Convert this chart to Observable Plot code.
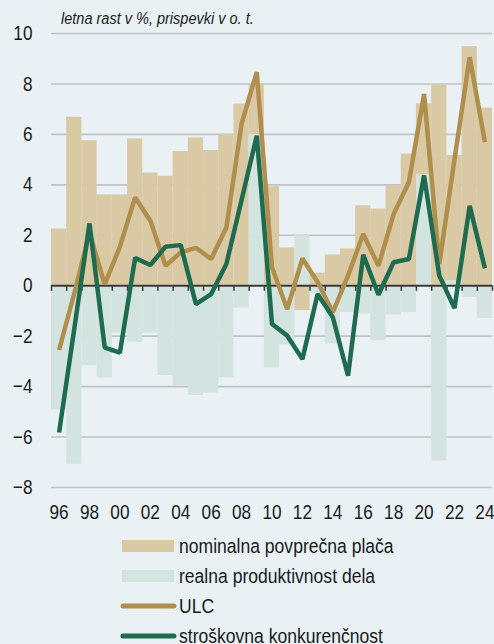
<!DOCTYPE html>
<html>
<head>
<meta charset="utf-8">
<script src="https://cdn.jsdelivr.net/npm/d3@7"></script>
<script src="https://cdn.jsdelivr.net/npm/@observablehq/plot@0.6"></script>
<style>
  html, body { margin: 0; padding: 0; }
  body { width: 494px; height: 644px; background: #E9F1F5; position: relative; overflow: hidden;
         font-family: "Liberation Sans", Arial, sans-serif; }
  #chart { position: absolute; left: 0; top: 0; }
  #overlay { position: absolute; left: 0; top: 0; pointer-events: none; }
</style>
</head>
<body>
<div id="chart"></div>
<svg id="overlay" width="494" height="644"></svg>
<script>
// ---- data ----
const years = [1996, 1997, 1998, 1999, 2000, 2001, 2002, 2003, 2004, 2005, 2006, 2007, 2008, 2009,
               2010, 2011, 2012, 2013, 2014, 2015, 2016, 2017, 2018, 2019, 2020, 2021, 2022, 2023, 2024];
// nominal average wage (contribution, p.p.)
const wage = [2.25, 6.68, 5.75, 3.6, 3.6, 5.82, 4.47, 4.34, 5.32, 5.86, 5.36, 6.0, 7.2, 2.0,
              3.93, 1.5, -0.99, 0.5, 1.22, 1.46, 3.17, 3.04, 3.97, 5.22, 2.81, 7.94, 4.96, 9.48, 7.04];
// real labour productivity (contribution, p.p.)
const productivity = [-4.93, -7.08, -3.17, -3.65, -1.88, -2.24, -1.88, -3.56, -3.98, -4.35, -4.26, -3.65, -0.89, 6.0,
                      -3.27, -2.35, 1.98, -0.3, -2.31, -1.06, -1.12, -2.18, -1.16, -1.06, 4.4, -6.94, 0.2, -0.46, -1.3];
// ULC (annual growth, %)
const ulc = [-2.55, -0.3, 2.1, 0.05, 1.55, 3.5, 2.58, 0.79, 1.32, 1.5, 1.06, 2.31, 6.42, 8.47,
             0.73, -0.93, 1.08, 0.15, -1.06, 0.4, 2.05, 0.79, 2.84, 4.1, 7.6, 0.86, 5.0, 9.06, 5.69];
// cost competitiveness (annual growth, %)
const competitiveness = [-5.82, -1.7, 2.47, -2.45, -2.65, 1.1, 0.82, 1.55, 1.61, -0.73, -0.33, 0.86, 3.4, 5.95,
                         -1.52, -1.98, -2.91, -0.33, -1.25, -3.57, 1.23, -0.36, 0.93, 1.06, 4.37, 0.4, -0.89, 3.17, 0.69];
const yTicks = [-8, -6, -4, -2, 0, 2, 4, 6, 8, 10];
const xLabelYears = [1996, 1998, 2000, 2002, 2004, 2006, 2008, 2010, 2012, 2014, 2016, 2018, 2020, 2022, 2024];
const seriesNames = ["nominalna povprečna plača", "realna produktivnost dela", "ULC", "stroškovna konkurenčnost"];
const subtitle = "letna rast v %, prispevki v o. t.";

// ---- styles ----
const C = { wage: "#D9C9A4", prod: "#D3E3DF", ulc: "#B08F4C", comp: "#1E6B4F", grid: "#BFC3C6", axis: "#3A3A3A", text: "#1a1a1a" };
const FONT = '"Liberation Sans", Arial, sans-serif';

// narrow-face emulation: horizontally squeeze a text element around its anchor
function squeeze(el, s) {
  const t = el.getAttribute("transform");
  if (t) {
    el.setAttribute("transform", t + ` scale(${s},1)`);
  } else {
    const x = +(el.getAttribute("x") || 0), y = +(el.getAttribute("y") || 0);
    el.removeAttribute("x"); el.removeAttribute("y");
    el.setAttribute("transform", `translate(${x},${y}) scale(${s},1)`);
  }
}

// stacked bar rows (productivity first, wage stacked on it if same sign)
const bars = [];
years.forEach((yr, i) => {
  const p = productivity[i], w = wage[i];
  bars.push({ year: yr, y1: 0, y2: p, s: "prod" });
  const base = Math.sign(w) === Math.sign(p) ? p : 0;
  bars.push({ year: yr, y1: base, y2: base + w, s: "wage" });
});
const lineRows = years.map((yr, i) => ({ year: yr, ulc: ulc[i], comp: competitiveness[i] }));
const boundaries = years.map(y => y - 0.5).concat([years[years.length - 1] + 0.5]);

const chart = Plot.plot({
  width: 494,
  height: 537,
  marginLeft: 51,
  marginRight: 2,
  marginTop: 33,
  marginBottom: 50,
  x: { domain: [years[0] - 0.5, years[years.length - 1] + 0.5] },
  y: { domain: [-8, 10] },
  style: { background: "transparent", fontFamily: FONT, fontSize: "20px", color: C.text, overflow: "visible" },
  marks: [
    Plot.ruleY(yTicks.filter(d => d !== 0), { stroke: C.grid, strokeWidth: 1.6 }),
    Plot.rectY(bars, { x1: d => d.year - 0.5, x2: d => d.year + 0.5, y1: "y1", y2: "y2", fill: d => C[d.s] }),
    Plot.ruleY([0], { stroke: C.axis, strokeWidth: 2 }),
    Plot.ruleX(boundaries, { y1: 0, y2: -0.22, stroke: C.axis, strokeWidth: 1.5 }),
    Plot.lineY(lineRows, { x: "year", y: "ulc", stroke: C.ulc, strokeWidth: 4.5, strokeLinejoin: "miter", strokeLinecap: "butt", curve: "linear" }),
    Plot.lineY(lineRows, { x: "year", y: "comp", stroke: C.comp, strokeWidth: 4.5, strokeLinejoin: "miter", strokeLinecap: "butt", curve: "linear" }),
    Plot.axisY(yTicks, { tickSize: 0, tickPadding: 19, fontSize: 20.5, label: null }),
    Plot.axisX(xLabelYears, { tickSize: 0, tickPadding: 17, fontSize: 20.5, label: null, tickFormat: d => String(d).slice(2) })
  ]
});
document.getElementById("chart").append(chart);
chart.querySelectorAll('g[aria-label="y-axis tick label"] text, g[aria-label="x-axis tick label"] text')
  .forEach(el => squeeze(el, 0.84));

// ---- subtitle + legend overlay ----
const ov = d3.select("#overlay");
const sub = ov.append("text").attr("x", 61).attr("y", 24).attr("font-family", FONT).attr("font-style", "italic")
  .attr("font-size", 16.5).attr("fill", C.text).text(subtitle);
squeeze(sub.node(), 0.88);

const legend = [
  { name: seriesNames[0], type: "rect", color: C.wage },
  { name: seriesNames[1], type: "rect", color: C.prod },
  { name: seriesNames[2], type: "line", color: C.ulc },
  { name: seriesNames[3], type: "line", color: C.comp }
];
legend.forEach((d, i) => {
  const cy = 546 + i * 30;
  if (d.type === "rect") {
    ov.append("rect").attr("x", 122).attr("y", cy - 6).attr("width", 52).attr("height", 12).attr("fill", d.color);
  } else {
    ov.append("line").attr("x1", 123).attr("x2", 174).attr("y1", cy).attr("y2", cy)
      .attr("stroke", d.color).attr("stroke-width", 5).attr("stroke-linecap", "round");
  }
  const t = ov.append("text").attr("x", 179).attr("y", cy + 7).attr("font-family", FONT).attr("font-size", 19.5)
    .attr("fill", C.text).text(d.name);
  squeeze(t.node(), 0.9);
});
</script>
</body>
</html>
